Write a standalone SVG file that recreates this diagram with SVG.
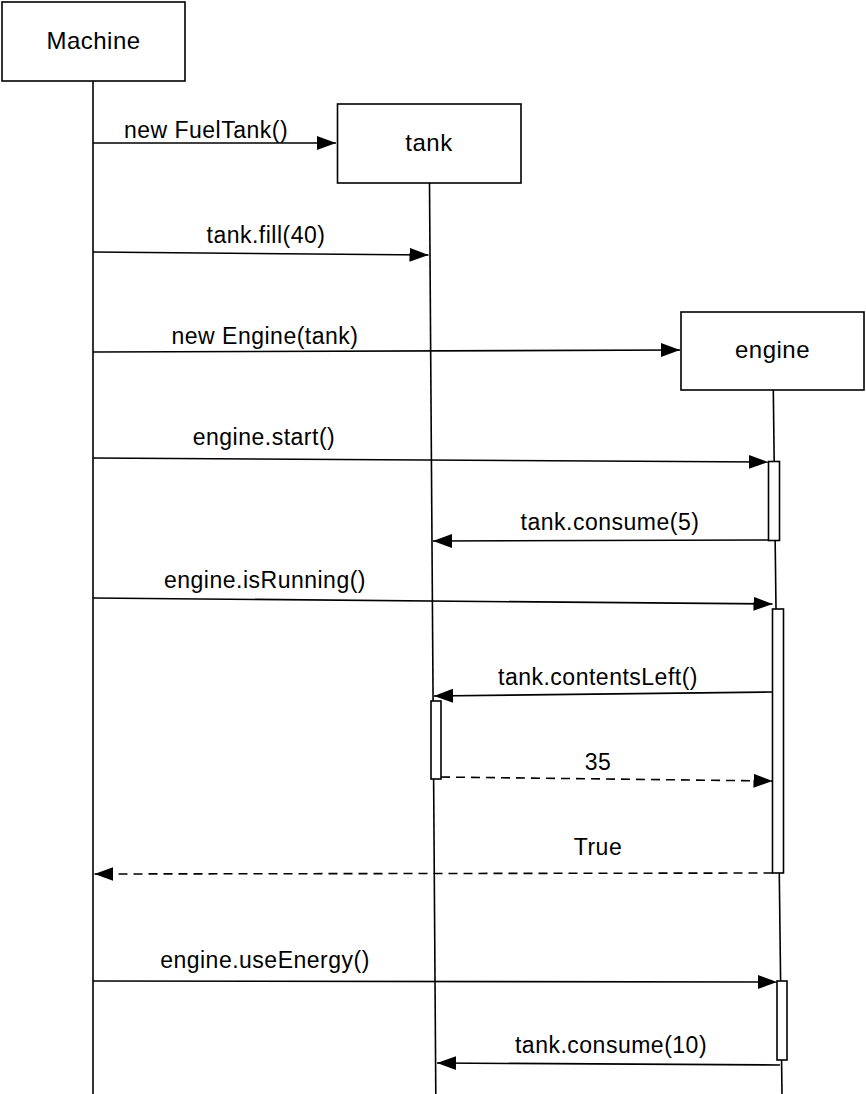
<svg xmlns="http://www.w3.org/2000/svg" width="866" height="1094" viewBox="0 0 866 1094">
<style>
.box{fill:#fff;stroke:#000;stroke-width:1.6}
.life{stroke:#000;stroke-width:1.6;fill:none}
.msg{stroke:#000;stroke-width:1.6;fill:none;marker-end:url(#ah)}
.ret{stroke:#000;stroke-width:1.6;fill:none;stroke-dasharray:9 6;marker-end:url(#ah)}
.act{fill:#fff;stroke:#000;stroke-width:1.6}
text{font-family:"Liberation Sans",Arial,Helvetica,sans-serif;font-size:23px;letter-spacing:0.5px;fill:#000;text-anchor:middle}
text.nm{font-size:24px}
</style>
<defs>
<marker id="ah" markerUnits="userSpaceOnUse" markerWidth="20" markerHeight="16" viewBox="0 0 20 16" refX="19" refY="8" orient="auto">
<path d="M0,1 L19,8 L0,15 Z" fill="#000"/>
</marker>
</defs>
<rect width="866" height="1094" fill="#fff"/>
<g id="lifelines">
<line class="life" x1="93" y1="81" x2="93" y2="1094"/>
<line class="life" x1="429.5" y1="183" x2="435.8" y2="1094"/>
<line class="life" x1="773.3" y1="390" x2="782" y2="1094"/>
</g>
<g id="node-machine">
<rect class="box" x="2" y="2" width="183" height="79"/>
<text class="nm" x="93.5" y="49">Machine</text>
</g>
<g id="node-tank">
<rect class="box" x="337.5" y="104" width="183.5" height="79"/>
<text class="nm" x="429" y="151">tank</text>
</g>
<g id="node-engine">
<rect class="box" x="681" y="312" width="183" height="78"/>
<text class="nm" x="772.5" y="358">engine</text>
</g>
<g id="activations">
<rect class="act" x="768.5" y="461.5" width="11" height="79"/>
<rect class="act" x="772.5" y="609" width="11" height="264"/>
<rect class="act" x="431" y="701" width="10" height="78"/>
<rect class="act" x="777" y="981" width="10" height="79"/>
</g>
<g id="connectors">
<line class="msg" x1="93" y1="143" x2="336" y2="143"/>
<line class="msg" x1="93" y1="252" x2="428.5" y2="255"/>
<line class="msg" x1="93" y1="352" x2="680" y2="350"/>
<line class="msg" x1="93" y1="458" x2="768" y2="462"/>
<line class="msg" x1="768.5" y1="540" x2="433" y2="541"/>
<line class="msg" x1="93" y1="598" x2="772.5" y2="604"/>
<line class="msg" x1="772.5" y1="692" x2="434" y2="696"/>
<line class="ret" x1="441" y1="777" x2="772.5" y2="781"/>
<line class="ret" x1="772.5" y1="873" x2="94.5" y2="874"/>
<line class="msg" x1="93" y1="981" x2="777" y2="982"/>
<line class="msg" x1="780" y1="1065" x2="437" y2="1063"/>
</g>
<g id="labels">
<text x="206" y="138">new FuelTank()</text>
<text x="266" y="243">tank.fill(40)</text>
<text x="265" y="344">new Engine(tank)</text>
<text x="264" y="445">engine.start()</text>
<text x="610" y="530">tank.consume(5)</text>
<text x="265" y="588">engine.isRunning()</text>
<text x="598" y="685">tank.contentsLeft()</text>
<text x="598" y="770">35</text>
<text x="598" y="855">True</text>
<text x="265" y="968">engine.useEnergy()</text>
<text x="611" y="1053">tank.consume(10)</text>
</g>
</svg>
